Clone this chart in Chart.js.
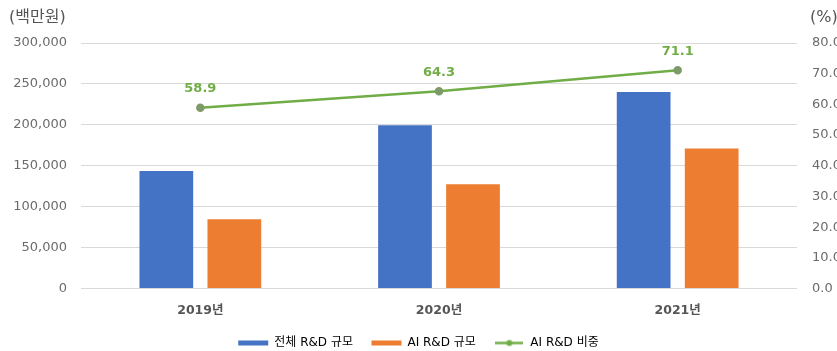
<!DOCTYPE html>
<html>
<head>
<meta charset="utf-8">
<script src="https://cdn.jsdelivr.net/npm/chart.js@4/dist/chart.umd.min.js"></script>
<style>
  html, body { margin: 0; padding: 0; background: #ffffff; overflow: hidden; }
  #wrap { width: 837px; height: 351px; position: relative; }
</style>
</head>
<body>
<div id="wrap"><canvas id="chart" width="837" height="351"></canvas></div>
<script>
// Data
const years = ['2019년', '2020년', '2021년'];
const totalRnD = [143500, 199500, 240000];   // 전체 R&D 규모 (백만원)
const aiRnD = [84500, 127500, 171000];       // AI R&D 규모 (백만원)
const aiShare = [58.9, 64.3, 71.1];          // AI R&D 비중 (%)
const leftTicks = [0, 50000, 100000, 150000, 200000, 250000, 300000];
const rightTicks = [0, 10, 20, 30, 40, 50, 60, 70, 80];

const BLUE = '#4472C4';
const ORANGE = '#ED7D31';
const GREEN = '#70AD47';
const TEXT = '#6b6b6b';
const FONT = '"DejaVu Sans", "Noto Sans CJK KR", sans-serif';

// legend marker for the share line: a short line with a dot in the middle
const lineMarker = document.createElement('canvas');
lineMarker.width = 28; lineMarker.height = 9;
(function () {
  const c = lineMarker.getContext('2d');
  c.strokeStyle = GREEN; c.lineWidth = 2.5;
  c.beginPath(); c.moveTo(0, 4.5); c.lineTo(28, 4.5); c.stroke();
  c.fillStyle = GREEN;
  c.beginPath(); c.arc(14, 4.5, 3, 0, Math.PI * 2); c.fill();
})();

// unit captions above both axes and value labels over the share line
const extras = {
  id: 'extras',
  afterDatasetsDraw(chart) {
    const ctx = chart.ctx;
    ctx.save();
    ctx.font = '16px ' + FONT;
    ctx.fillStyle = '#555555';
    ctx.textBaseline = 'middle';
    ctx.textAlign = 'left';
    ctx.fillText('(백만원)', 9, 18);
    ctx.fillText('(%)', 810, 18);

    const meta = chart.getDatasetMeta(2);
    ctx.font = 'bold 13px ' + FONT;
    ctx.fillStyle = GREEN;
    ctx.textAlign = 'center';
    meta.data.forEach((pt, i) => {
      ctx.fillText(aiShare[i].toFixed(1), pt.x, pt.y - 19);
    });
    ctx.restore();
  }
};

new Chart(document.getElementById('chart'), {
  data: {
    labels: years,
    datasets: [
      {
        type: 'bar', label: '전체 R&D 규모', data: totalRnD,
        backgroundColor: BLUE, yAxisID: 'y', order: 2,
        categoryPercentage: 0.57, barPercentage: 0.79
      },
      {
        type: 'bar', label: 'AI R&D 규모', data: aiRnD,
        backgroundColor: ORANGE, yAxisID: 'y', order: 2,
        categoryPercentage: 0.57, barPercentage: 0.79
      },
      {
        type: 'line', label: 'AI R&D 비중', data: aiShare,
        borderColor: GREEN, backgroundColor: GREEN, borderWidth: 2.5,
        pointRadius: 3, pointBackgroundColor: '#7e9a68', pointBorderColor: '#7e9a68',
        yAxisID: 'y1', order: 1, tension: 0
      }
    ]
  },
  options: {
    responsive: false,
    animation: false,
    devicePixelRatio: 1,
    layout: { padding: { top: 43, left: 0, right: 0, bottom: -8 } },
    scales: {
      x: {
        grid: { display: false, drawTicks: false },
        border: { display: false },
        afterFit(s) { s.height = 30; },
        ticks: { color: '#555555', font: { family: FONT, size: 12.5, weight: 'bold' }, padding: 15 }
      },
      y: {
        position: 'left', min: 0, max: 300000,
        afterBuildTicks(s) { s.ticks = leftTicks.map(v => ({ value: v })); },
        afterFit(s) { s.width = 81; },
        grid: { color: '#d9d9d9', lineWidth: 1, drawTicks: false },
        border: { display: false },
        ticks: {
          color: TEXT, font: { family: FONT, size: 13 }, padding: 14,
          callback: v => v.toLocaleString('en-US')
        }
      },
      y1: {
        position: 'right', min: 0, max: 80,
        afterBuildTicks(s) { s.ticks = rightTicks.map(v => ({ value: v })); },
        afterFit(s) { s.width = 40; },
        grid: { display: false, drawTicks: false },
        border: { display: false },
        ticks: {
          color: TEXT, font: { family: FONT, size: 13 }, padding: 15,
          callback: v => Number(v).toFixed(1)
        }
      }
    },
    plugins: {
      tooltip: { enabled: false },
      legend: {
        position: 'bottom',
        labels: {
          color: TEXT,
          font: { family: FONT, size: 12 },
          usePointStyle: true,
          pointStyleWidth: 30,
          boxHeight: 5,
          padding: 18.5,
          generateLabels(chart) {
            return chart.data.datasets.map((ds, i) => ({
              text: ds.label,
              fillStyle: ds.backgroundColor,
              strokeStyle: ds.backgroundColor,
              lineWidth: 0,
              pointStyle: i === 2 ? lineMarker : 'rect',
              hidden: false,
              datasetIndex: i
            }));
          }
        }
      }
    }
  },
  plugins: [extras]
});
</script>
</body>
</html>
